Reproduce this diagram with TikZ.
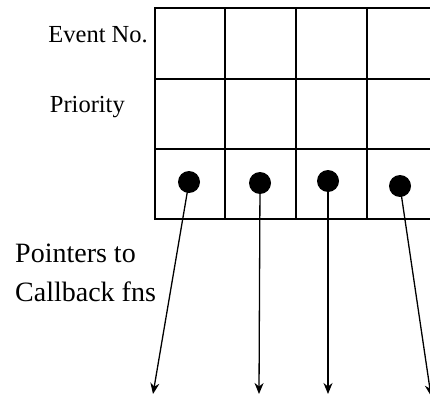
\documentclass[tikz,border=0pt]{standalone}
\usepackage{fontspec}
\setmainfont{Liberation Serif}
\usetikzlibrary{arrows.meta}
\begin{document}
\begin{tikzpicture}[x=1pt,y=-1pt,
  gridline/.style={line width=1.3pt},
  pointer/.style={circle,fill=black,minimum size=22pt,inner sep=0pt},
  ptrarrow/.style={line width=1.3pt,-{Stealth[length=11pt,width=9pt,inset=3.5pt]}},
  rowlabel/.style={font=\fontsize{24.5}{28}\selectfont,anchor=base east,inner sep=0pt},
  sidelabel/.style={font=\fontsize{28}{39}\selectfont,align=left,anchor=north west,inner sep=0pt}]
\useasboundingbox (0,0) rectangle (430,398);
% table grid, open on the right
\draw[gridline] (430,8) -- (155,8) -- (155,219) -- (430,219);
\draw[gridline] (155,79) -- (430,79);
\draw[gridline] (155,149) -- (430,149);
\foreach \x in {225,296,367}
  \draw[gridline] (\x,8) -- (\x,219);
% row labels
\node[rowlabel] (evno) at (148,43) {Event No.};
\node[rowlabel] (prio) at (125,113) {Priority};
% pointer cells
\node[pointer] (p1) at (189,182) {};
\node[pointer] (p2) at (260,183) {};
\node[pointer] (p3) at (328,181) {};
\node[pointer] (p4) at (400,186) {};
% arrow end points
\coordinate (e1) at (153,394);
\coordinate (e2) at (259,394);
\coordinate (e3) at (328,394);
\coordinate (e4) at (431,396);
\draw[ptrarrow] (p1.center) -- (e1);
\draw[ptrarrow] (p2.center) -- (e2);
\draw[ptrarrow] (p3.center) -- (e3);
\draw[ptrarrow] (p4.center) -- (e4);
% side label
\node[sidelabel] (cb) at (15,244) {Pointers to\\Callback fns};
\end{tikzpicture}
\end{document}
